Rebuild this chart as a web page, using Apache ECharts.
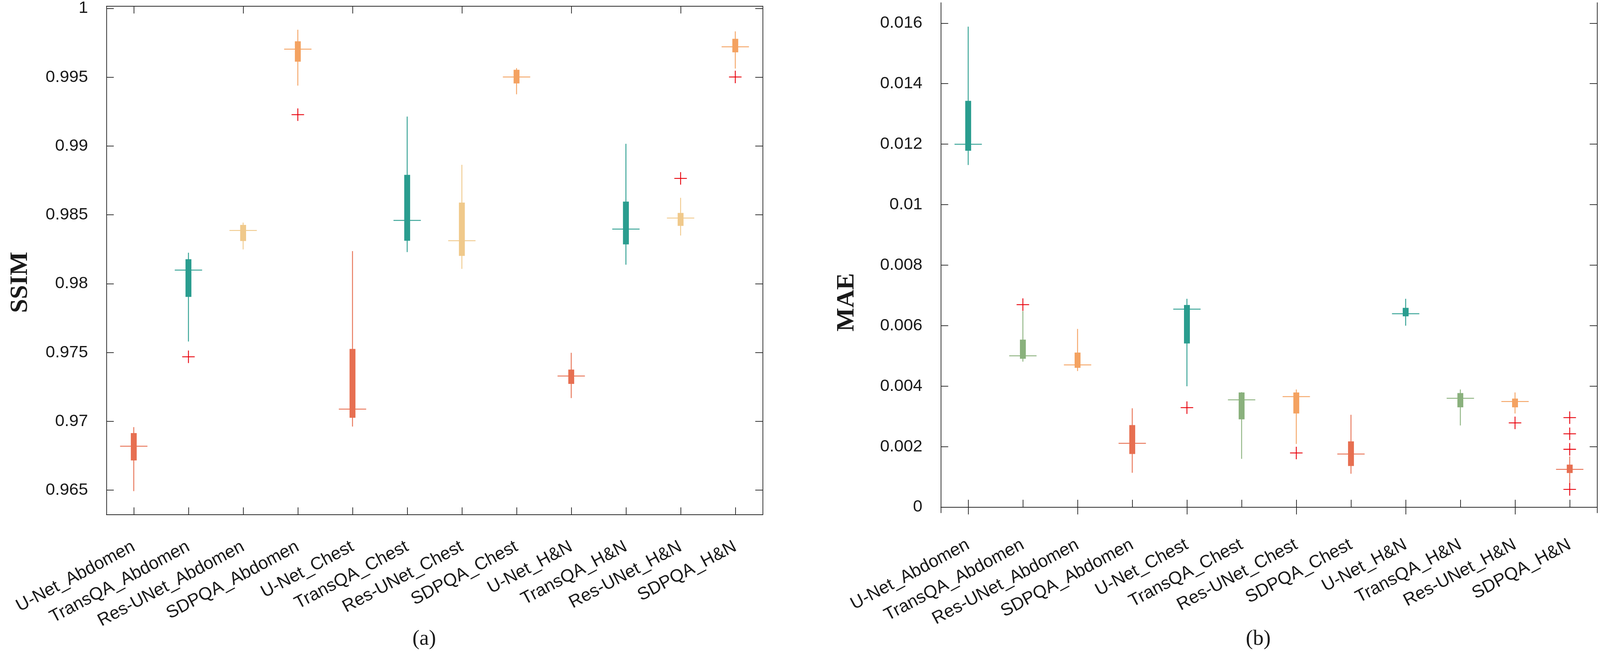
<!DOCTYPE html>
<html>
<head>
<meta charset="utf-8">
<script src="https://cdn.jsdelivr.net/npm/echarts@6/dist/echarts.min.js"></script>
<style>
html,body{margin:0;padding:0;background:#fff;overflow:hidden;}
#chart{width:100vw;height:100vh;}
</style>
</head>
<body>
<div id="chart"></div>
<script>
const categories = ['U-Net_Abdomen','TransQA_Abdomen','Res-UNet_Abdomen','SDPQA_Abdomen','U-Net_Chest','TransQA_Chest','Res-UNet_Chest','SDPQA_Chest','U-Net_H&N','TransQA_H&N','Res-UNet_H&N','SDPQA_H&N'];

// [whiskerLow, q1, median, q3, whiskerHigh]
const ssimBoxes = [
  [0.96493, 0.96716, 0.96819, 0.96915, 0.96958],
  [0.97580, 0.97904, 0.98099, 0.98178, 0.98225],
  [0.98249, 0.98310, 0.98387, 0.98427, 0.98444],
  [0.99439, 0.99613, 0.99704, 0.99761, 0.99845],
  [0.96962, 0.97026, 0.97089, 0.97526, 0.98237],
  [0.98230, 0.98312, 0.98460, 0.98791, 0.99214],
  [0.98108, 0.98202, 0.98312, 0.98589, 0.98864],
  [0.99376, 0.99455, 0.99502, 0.99554, 0.99566],
  [0.97169, 0.97272, 0.97329, 0.97376, 0.97498],
  [0.98138, 0.98286, 0.98397, 0.98596, 0.99016],
  [0.98350, 0.98420, 0.98477, 0.98514, 0.98624],
  [0.99563, 0.99681, 0.99721, 0.99779, 0.99833]
];
const ssimOutliers = [[1, 0.97469], [3, 0.99228], [10, 0.98765], [11, 0.99502]];

const maeBoxes = [
  [0.011310, 0.011781, 0.011995, 0.013430, 0.015883],
  [0.004809, 0.004905, 0.005002, 0.005537, 0.006480],
  [0.004498, 0.004605, 0.004702, 0.005109, 0.005891],
  [0.001135, 0.001756, 0.002110, 0.002710, 0.003267],
  [0.003995, 0.005409, 0.006544, 0.006683, 0.006887],
  [0.001596, 0.002902, 0.003545, 0.003791, 0.003800],
  [0.002088, 0.003095, 0.003652, 0.003791, 0.003888],
  [0.001103, 0.001360, 0.001756, 0.002174, 0.003052],
  [0.005998, 0.006308, 0.006394, 0.006587, 0.006887],
  [0.002699, 0.003299, 0.003599, 0.003770, 0.003888],
  [0.003095, 0.003299, 0.003491, 0.003588, 0.003791],
  [0.000749, 0.001127, 0.001249, 0.001404, 0.001675]
];
const maeOutliers = [[1, 0.006694], [4, 0.003288], [6, 0.001789], [10, 0.002785],
  [11, 0.002957], [11, 0.002424], [11, 0.001911], [11, 0.000585]];

const ssimTicks = [0.965, 0.97, 0.975, 0.98, 0.985, 0.99, 0.995, 1];
const maeTicks = [0, 0.002, 0.004, 0.006, 0.008, 0.01, 0.012, 0.014, 0.016];

const ssimColors = ['#E76F51', '#2A9D8F', '#F0C98B', '#F4A261'];
const maeColors = ['#2A9D8F', '#8AB17D', '#F4A261', '#E76F51'];

const AXIS_COLOR = '#2b2b2b';
const LABEL_FONT = 'Liberation Sans, Arial, sans-serif';

const el = document.getElementById('chart');
const W = el.clientWidth || window.innerWidth;
const H = el.clientHeight || window.innerHeight;
const SX = W / 4345, SY = H / 1667, S = Math.min(SX, SY);
function X(v) { return v * SX; }
function Y(v) { return v * SY; }
function F(v) { return v * S; }

function boxRender(colors) {
  return function (params, api) {
    const i = api.value(0);
    const lo = api.coord([i, api.value(1)]);
    const q1 = api.coord([i, api.value(2)]);
    const md = api.coord([i, api.value(3)]);
    const q3 = api.coord([i, api.value(4)]);
    const hi = api.coord([i, api.value(5)]);
    const x = lo[0];
    const c = colors[i % colors.length];
    const band = api.size([1, 0])[0];
    const bw = X(16);
    return {
      type: 'group',
      children: [
        { type: 'line', shape: { x1: x, y1: hi[1], x2: x, y2: lo[1] }, style: { stroke: c, lineWidth: F(2.4) } },
        { type: 'rect', shape: { x: x - bw / 2, y: q3[1], width: bw, height: q1[1] - q3[1] }, style: { fill: c } },
        { type: 'line', shape: { x1: x - band / 4, y1: md[1], x2: x + band / 4, y2: md[1] }, style: { stroke: c, lineWidth: F(2.4) } }
      ]
    };
  };
}

function plusRender(params, api) {
  const p = api.coord([api.value(0), api.value(1)]);
  const h = F(17);
  return {
    type: 'group',
    children: [
      { type: 'line', shape: { x1: p[0] - h, y1: p[1], x2: p[0] + h, y2: p[1] }, style: { stroke: '#E8000B', lineWidth: F(2.4) } },
      { type: 'line', shape: { x1: p[0], y1: p[1] - h, x2: p[0], y2: p[1] + h }, style: { stroke: '#E8000B', lineWidth: F(2.4) } }
    ]
  };
}

function xAxes(gridIndex) {
  const base = {
    type: 'category', data: categories, gridIndex: gridIndex, boundaryGap: true,
    axisLine: { show: true, lineStyle: { color: AXIS_COLOR, width: F(2) } },
    axisTick: { show: true, inside: true, alignWithLabel: true, length: F(20), lineStyle: { color: AXIS_COLOR, width: F(2) } },
    splitLine: { show: false }
  };
  return [
    Object.assign({}, base, {
      position: 'bottom',
      axisLabel: { show: true, interval: 0, rotate: 28, margin: F(84), fontSize: F(48), fontFamily: LABEL_FONT, color: '#1a1a1a' }
    }),
    Object.assign({}, base, { position: 'top', axisLabel: { show: false } })
  ];
}

function yAxes(gridIndex, min, max, ticks) {
  const base = {
    type: 'value', gridIndex: gridIndex, min: min, max: max, scale: true,
    axisLine: { show: true, lineStyle: { color: AXIS_COLOR, width: F(2) } },
    axisTick: { show: true, inside: true, length: F(20), customValues: ticks, lineStyle: { color: AXIS_COLOR, width: F(2) } },
    splitLine: { show: false }
  };
  return [
    Object.assign({}, base, {
      position: 'left',
      axisLabel: { show: true, customValues: ticks, margin: F(50), fontSize: F(46), fontFamily: LABEL_FONT, color: '#1a1a1a',
        formatter: function (v) { return String(+v.toFixed(4)); } }
    }),
    Object.assign({}, base, { position: 'right', axisLabel: { show: false } })
  ];
}

const chart = echarts.init(el, null, { renderer: 'canvas', width: W, height: H });

const option = {
  backgroundColor: '#ffffff',
  animation: false,
  grid: [
    { left: X(289), top: Y(12), width: X(1782), height: Y(1306) },
    { left: X(2555), top: Y(7), width: X(1782), height: Y(1306) }
  ],
  xAxis: xAxes(0).concat(xAxes(1)),
  yAxis: yAxes(0, 0.963217, 1.000164, ssimTicks).concat(yAxes(1, -0.000187, 0.016675, maeTicks)),
  series: [
    {
      type: 'custom', name: 'SSIM', xAxisIndex: 0, yAxisIndex: 0,
      renderItem: boxRender(ssimColors),
      data: ssimBoxes.map(function (b, i) { return [i].concat(b); }),
      encode: { x: 0, y: [1, 2, 3, 4, 5] }
    },
    {
      type: 'custom', name: 'SSIM outliers', xAxisIndex: 0, yAxisIndex: 0,
      renderItem: plusRender, data: ssimOutliers, encode: { x: 0, y: 1 }
    },
    {
      type: 'custom', name: 'MAE', xAxisIndex: 2, yAxisIndex: 2,
      renderItem: boxRender(maeColors),
      data: maeBoxes.map(function (b, i) { return [i].concat(b); }),
      encode: { x: 0, y: [1, 2, 3, 4, 5] }
    },
    {
      type: 'custom', name: 'MAE outliers', xAxisIndex: 2, yAxisIndex: 2,
      renderItem: plusRender, data: maeOutliers, encode: { x: 0, y: 1 }
    }
  ],
  graphic: [
    { type: 'text', x: X(56), y: Y(723), rotation: Math.PI / 2,
      style: { text: 'SSIM', font: 'bold ' + F(68) + 'px "Liberation Serif", "Times New Roman", serif', fill: '#1a1a1a', textAlign: 'center', textVerticalAlign: 'middle' } },
    { type: 'text', x: X(2300), y: Y(774), rotation: Math.PI / 2,
      style: { text: 'MAE', font: 'bold ' + F(68) + 'px "Liberation Serif", "Times New Roman", serif', fill: '#1a1a1a', textAlign: 'center', textVerticalAlign: 'middle' } },
    { type: 'text', x: X(1152), y: Y(1637),
      style: { text: '(a)', font: F(58) + 'px "Liberation Serif", "Times New Roman", serif', fill: '#1a1a1a', textAlign: 'center', textVerticalAlign: 'middle' } },
    { type: 'text', x: X(3417), y: Y(1637),
      style: { text: '(b)', font: F(58) + 'px "Liberation Serif", "Times New Roman", serif', fill: '#1a1a1a', textAlign: 'center', textVerticalAlign: 'middle' } }
  ]
};

chart.setOption(option);
</script>
</body>
</html>
